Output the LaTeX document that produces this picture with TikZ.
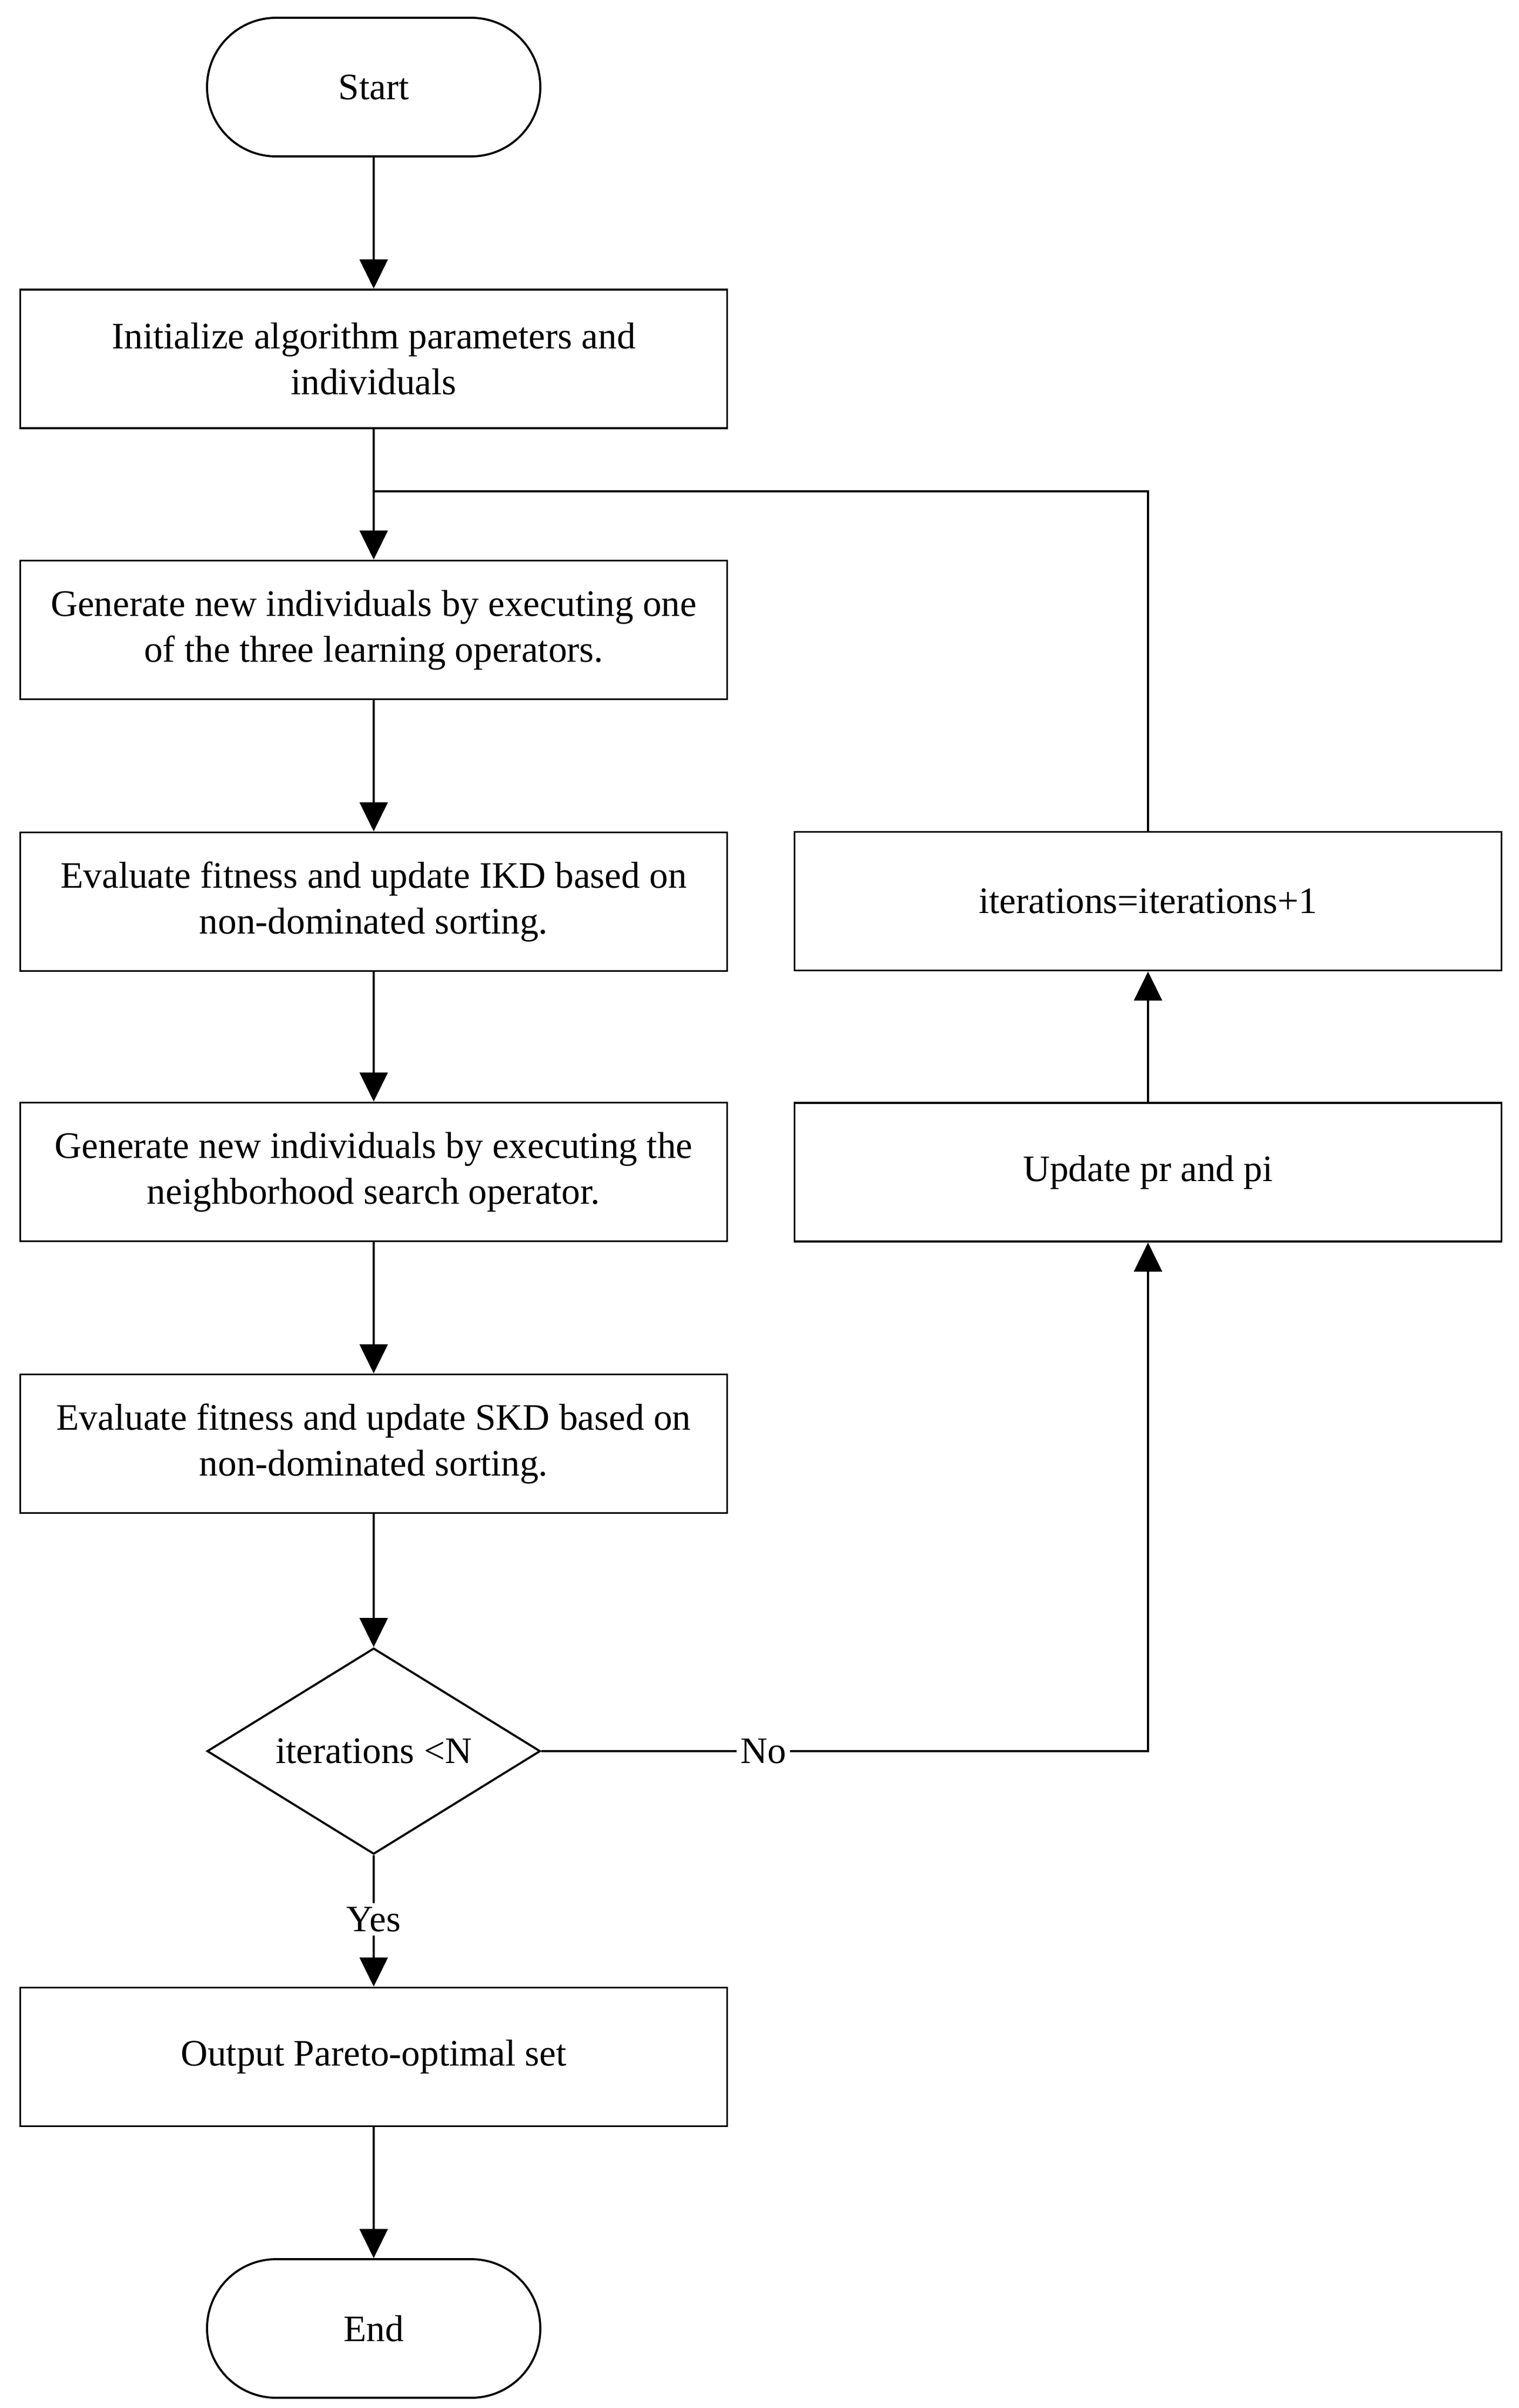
\documentclass[tikz,border=0pt]{standalone}
\usepackage{fontspec}
\setmainfont{Liberation Serif}
\usetikzlibrary{shapes.geometric,arrows.meta}
\begin{document}
\begin{tikzpicture}[x=1cm,y=1cm,
  every node/.style={font=\fontsize{19.7pt}{24.2pt}\selectfont},
  procbox/.style={draw,line width=1.1pt,minimum width=13.11cm,minimum height=2.57cm,align=center,inner sep=0pt},
  termbox/.style={draw,line width=1.1pt,minimum width=6.18cm,minimum height=2.57cm,rounded corners=1.28cm,inner sep=0pt},
  decbox/.style={draw,line width=1.1pt,shape=diamond,minimum width=6.18cm,minimum height=3.82cm,aspect=1.6,inner sep=0pt},
  conn/.style={line width=1.1pt},
  arr/.style={line width=1.1pt,-{Triangle[length=0.54cm,width=0.52cm]}},
  lbl/.style={fill=white,inner sep=2pt}]
\useasboundingbox (0,0) rectangle (28.17,-44.65);
\node[termbox] (start) at (6.93,-1.615) {Start};
\node[procbox] (init) at (6.93,-6.655) {Initialize algorithm parameters and\\individuals};
\node[procbox] (gen1) at (6.93,-11.68) {Generate new individuals by executing one\\of the three learning operators.};
\node[procbox] (eval1) at (6.93,-16.72) {Evaluate fitness and update IKD based on\\non-dominated sorting.};
\node[procbox] (gen2) at (6.93,-21.73) {Generate new individuals by executing the\\neighborhood search operator.};
\node[procbox] (eval2) at (6.93,-26.77) {Evaluate fitness and update SKD based on\\non-dominated sorting.};
\node[decbox] (dec) at (6.93,-32.47) {iterations <N};
\node[procbox] (out) at (6.93,-38.14) {Output Pareto-optimal set};
\node[termbox] (end) at (6.93,-43.175) {End};
\node[procbox] (iter) at (21.29,-16.71) {iterations=iterations+1};
\node[procbox] (upd) at (21.29,-21.735) {Update pr and pi};
\coordinate (junc) at (6.93,-9.11);
\draw[arr] (start) -- (init);
\draw[arr] (init) -- (gen1);
\draw[arr] (gen1) -- (eval1);
\draw[arr] (eval1) -- (gen2);
\draw[arr] (gen2) -- (eval2);
\draw[arr] (eval2) -- (dec);
\draw[arr] (dec) -- node[lbl,pos=0.49]{Yes} (out);
\draw[arr] (out) -- (end);
\draw[arr] (dec.east) -- node[lbl,pos=0.366]{No} (dec.east -| upd.south) -- (upd.south);
\draw[arr] (upd) -- (iter);
\draw[conn] (iter.north) |- (junc);
\end{tikzpicture}
\end{document}
